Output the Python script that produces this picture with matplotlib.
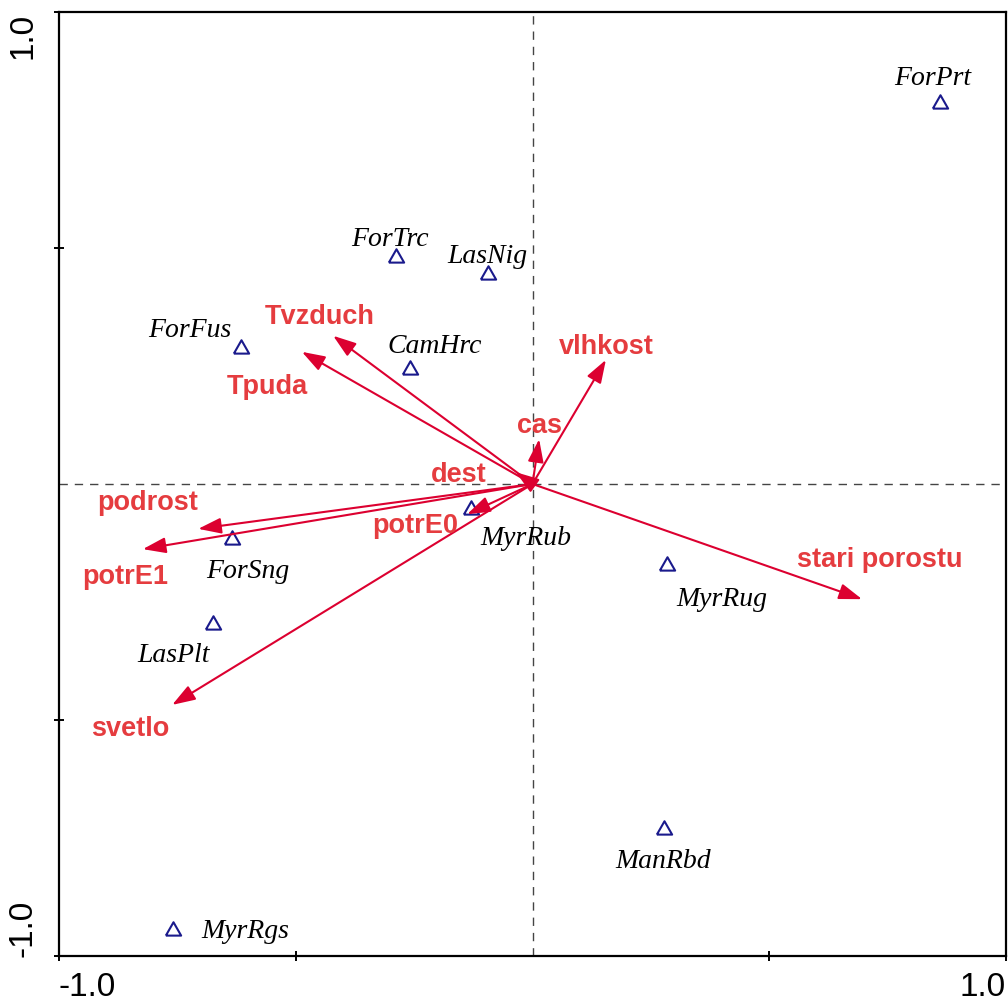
import matplotlib.pyplot as plt

# species scores (axis 1, axis 2) and where their names sit
species = ["ForPrt", "ForTrc", "LasNig", "ForFus", "CamHrc", "MyrRub",
           "ForSng", "MyrRug", "LasPlt", "ManRbd", "MyrRgs"]
sp_x = [0.861, -0.288, -0.094, -0.616, -0.259, -0.130,
        -0.635, 0.284, -0.675, 0.278, -0.759]
sp_y = [0.809, 0.483, 0.447, 0.290, 0.246, -0.051,
        -0.114, -0.169, -0.294, -0.729, -0.943]
sp_lab_x = [0.846, -0.301, -0.096, -0.723, -0.206, -0.014,
            -0.601, 0.400, -0.759, 0.276, -0.607]
sp_lab_y = [0.862, 0.521, 0.485, 0.328, 0.294, -0.113,
            -0.183, -0.242, -0.361, -0.797, -0.946]

# environmental variables (arrow tips) and their label positions
env = ["stari porostu", "vlhkost", "cas", "dest", "Tvzduch", "Tpuda",
       "podrost", "potrE1", "potrE0", "svetlo"]
env_x = [0.696, 0.155, 0.014, -0.035, -0.421, -0.487,
         -0.706, -0.823, -0.138, -0.761]
env_y = [-0.244, 0.263, 0.095, 0.025, 0.314, 0.280,
         -0.095, -0.138, -0.064, -0.468]
env_lab_x = [0.734, 0.155, 0.014, -0.155, -0.449, -0.561,
             -0.812, -0.861, -0.248, -0.850]
env_lab_y = [-0.159, 0.293, 0.125, 0.021, 0.356, 0.208,
             -0.038, -0.195, -0.087, -0.517]

arrow_col = "#dc0030"
label_col = "#e53c3f"
tri_col = "#1a1a8c"

fig = plt.figure(figsize=(10.08, 10.04), dpi=100)
ax = fig.add_axes([59 / 1008, 1 - 957 / 1004, 947 / 1008, 944 / 1004])
ax.set_xlim(-1, 1)
ax.set_ylim(-1, 1)

ax.axhline(0, color="#444444", lw=1, ls=(0, (6, 5)), zorder=1)
ax.axvline(0, color="#444444", lw=1, ls=(0, (6, 5)), zorder=1)

for name, x, y, lx, ly in zip(env, env_x, env_y, env_lab_x, env_lab_y):
    ax.annotate("", xy=(x, y), xytext=(0, 0),
                arrowprops=dict(arrowstyle="-|>,head_length=0.7,head_width=0.24",
                                mutation_scale=20, color=arrow_col, lw=1.5,
                                shrinkA=0, shrinkB=0), zorder=3)
    ax.text(lx, ly, name, color=label_col, fontsize=19.5, fontweight="bold",
            family="Liberation Sans", ha="center", va="center", zorder=4)

tri = [(-1, -0.8), (1, -0.8), (0, 0.95), (-1, -0.8)]
ax.plot(sp_x, sp_y, ls="none", marker=tri, markersize=11, mfc="none",
        mec=tri_col, mew=1.5, zorder=2)
for name, lx, ly in zip(species, sp_lab_x, sp_lab_y):
    ax.text(lx, ly, name, fontsize=20, style="italic", family="Liberation Serif",
            ha="center", va="center", color="black", zorder=4)

for sp in ax.spines.values():
    sp.set_linewidth(1.6)

ax.set_xticks([-1, -0.5, 0.5, 1])
ax.set_xticklabels(["-1.0", "", "", "1.0"])
ax.set_yticks([-1, -0.5, 0.5, 1])
ax.set_yticklabels(["-1.0", "", "", "1.0"], rotation=90)
ax.tick_params(direction="inout", length=7, width=1.4, labelsize=24)
ax.tick_params(axis="x", pad=7)
ax.tick_params(axis="y", pad=11)
for t in ax.get_xticklabels() + ax.get_yticklabels():
    t.set_family("Liberation Sans")
xl = ax.get_xticklabels()
xl[0].set_ha("left")
xl[-1].set_ha("right")
yl = ax.get_yticklabels()
yl[0].set_va("bottom")
yl[-1].set_va("top")
for t in yl:
    t.set_ha("right")

fig.savefig("out.png", dpi=100)
